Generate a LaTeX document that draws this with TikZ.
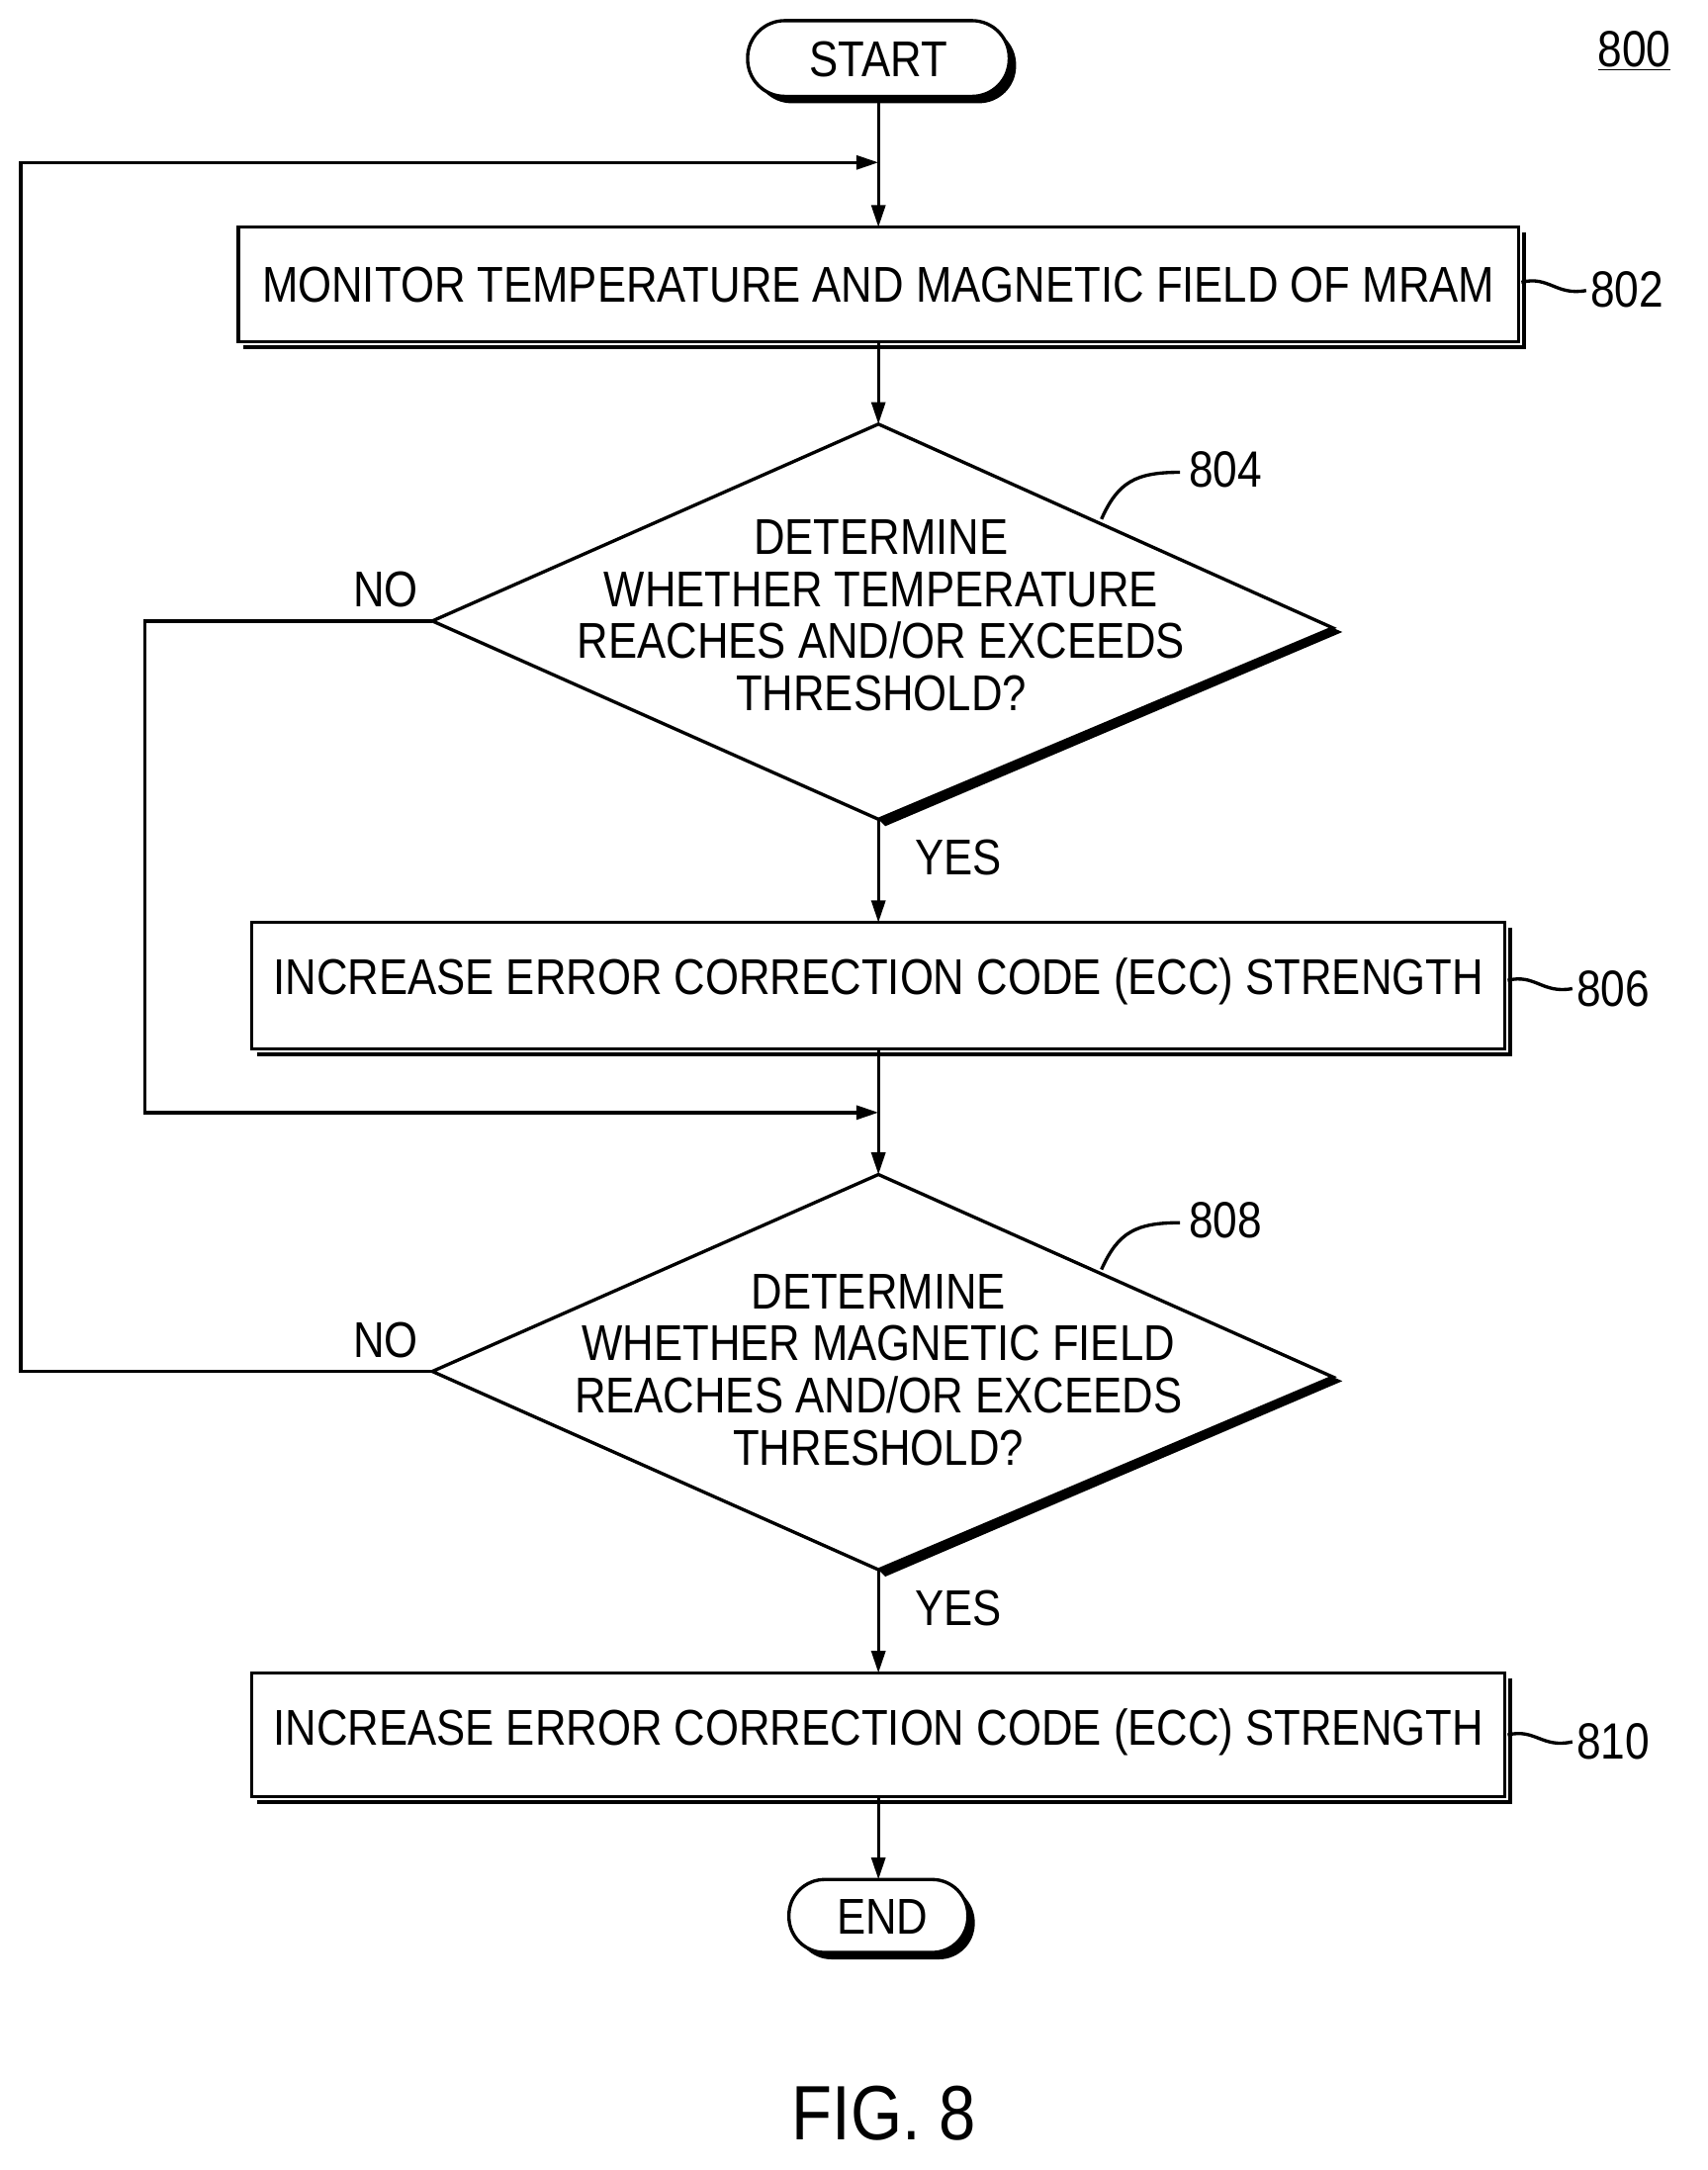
\documentclass[tikz,border=0pt]{standalone}
\usepackage{fontspec}
\setmainfont{Liberation Sans}[FakeStretch=0.86]
\usetikzlibrary{arrows.meta,shapes.geometric}
\begin{document}
\begin{tikzpicture}[x=1pt,y=-1pt,
  ln/.style={line width=2.4pt},
  arr/.style={ln,-{Triangle[length=16pt,width=10pt]}},
  txt/.style={font=\fontsize{36.5}{40}\selectfont,align=center,inner sep=0pt},
  lab/.style={font=\fontsize{37}{40}\selectfont,inner sep=0pt}]
\useasboundingbox (0,0) rectangle (1240,1576);
% START
\fill[rounded corners=27pt] (548,20) rectangle (738,75);
\draw[ln,fill=white,rounded corners=27pt] (543,15) rectangle (733,70);
\node[txt] (start) at (638,43) {START};
\coordinate (st) at (638,70);
\node[lab] (n800) at (1187,37) {\underline{800}};
% Box 802
\draw[line width=3pt] (177,252) -- (1107,252) -- (1107,169);
\draw[ln,fill=white] (173,165) rectangle (1103,248);
\node[txt] (b802) at (638,207) {MONITOR TEMPERATURE AND MAGNETIC FIELD OF MRAM};
\node[lab,anchor=west] (l802) at (1155,210) {802};
\draw[ln] (1105,205) .. controls (1125,200) and (1130,215) .. (1152,211);
% Diamond 804
\fill (968,456) -- (975,459) -- (643,600) -- (638,595) -- cycle;
\draw[ln,fill=white] (638,308) -- (968,456) -- (638,595) -- (314,451) -- cycle;
\node[txt] (d804) at (640,447) {DETERMINE\\[-2pt]WHETHER TEMPERATURE\\[-2pt]REACHES AND/OR EXCEEDS\\[-2pt]THRESHOLD?};
\node[lab] (l804) at (890,341) {804};
\draw[ln] (800,377) .. controls (812,350) and (825,343) .. (857,343);
\coordinate (d804t) at (638,308);
\coordinate (d804b) at (638,595);
\coordinate (d804l) at (314,451);
% Box 806
\draw[line width=3pt] (187,766) -- (1097,766) -- (1097,674);
\draw[ln,fill=white] (183,670) rectangle (1093,762);
\node[txt] (b806) at (638,713) {INCREASE ERROR CORRECTION CODE (ECC) STRENGTH};
\node[lab,anchor=west] (l806) at (1145,718) {806};
\draw[ln] (1095,712) .. controls (1115,707) and (1120,722) .. (1142,718);
% Diamond 808
\fill (968,1000) -- (975,1003) -- (643,1145) -- (638,1140) -- cycle;
\draw[ln,fill=white] (638,853) -- (968,1000) -- (638,1140) -- (314,996) -- cycle;
\node[txt] (d808) at (638,995) {DETERMINE\\[-2pt]WHETHER MAGNETIC FIELD\\[-2pt]REACHES AND/OR EXCEEDS\\[-2pt]THRESHOLD?};
\node[lab] (l808) at (890,886) {808};
\draw[ln] (800,922) .. controls (812,895) and (825,888) .. (857,888);
\coordinate (d808t) at (638,853);
\coordinate (d808b) at (638,1140);
\coordinate (d808l) at (314,996);
% Box 810
\draw[line width=3pt] (187,1309) -- (1097,1309) -- (1097,1219);
\draw[ln,fill=white] (183,1215) rectangle (1093,1305);
\node[txt] (b810) at (638,1258) {INCREASE ERROR CORRECTION CODE (ECC) STRENGTH};
\node[lab,anchor=west] (l810) at (1145,1265) {810};
\draw[ln] (1095,1260) .. controls (1115,1255) and (1120,1270) .. (1142,1265);
% END
\fill[rounded corners=26pt] (578,1370) rectangle (708,1423);
\draw[ln,fill=white,rounded corners=26pt] (573,1365) rectangle (703,1418);
\node[txt] (end) at (641,1392) {END};
% connectors
\coordinate (m1) at (638,118);
\coordinate (m2) at (638,808);
\draw[arr] (st) -- (638,165);
\draw[arr] (638,248) -- (d804t);
\draw[arr] (d804b) -- (638,670);
\draw[ln] (638,762) -- (638,810);
\draw[arr] (m2) -- (d808t);
\draw[arr] (d808b) -- (638,1215);
\draw[arr] (638,1305) -- (638,1365);
\draw[arr] (d804l) -- (105,451) -- (105,808) -- (m2);
\draw[arr] (d808l) -- (15,996) -- (15,118) -- (m1);
\node[txt] (no1) at (280,428) {NO};
\node[txt] (no2) at (280,973) {NO};
\node[txt] (yes1) at (696,623) {YES};
\node[txt] (yes2) at (696,1168) {YES};
\node[font=\fontsize{56}{60}\selectfont,inner sep=0pt] (fig) at (642,1535) {FIG. 8};
\end{tikzpicture}
\end{document}
